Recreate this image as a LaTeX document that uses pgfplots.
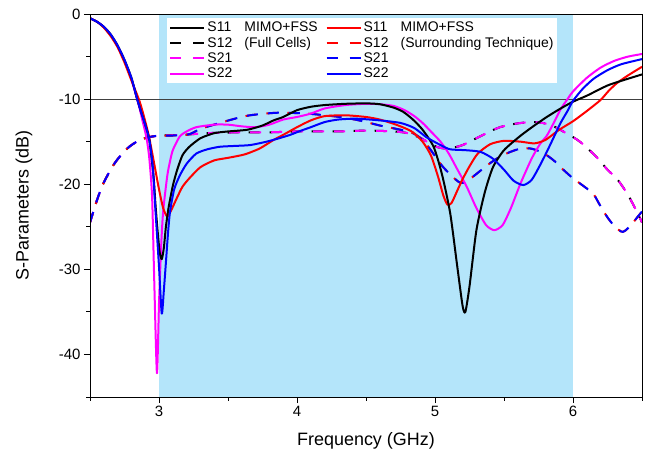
\documentclass[border=0pt]{standalone}
\usepackage{fontspec}
\setmainfont{Liberation Sans}
\usepackage{pgfplots}
\pgfplotsset{compat=1.18}
\definecolor{skyb}{RGB}{180,229,250}
\definecolor{mag}{RGB}{255,0,255}
\definecolor{myred}{RGB}{255,0,0}
\definecolor{myblue}{RGB}{0,0,255}
\begin{document}
\begin{tikzpicture}
\begin{axis}[
 scale only axis, width=552bp, height=383bp,
 xmin=2.5, xmax=6.5, ymin=-45, ymax=0,
 xtick={3,4,5,6}, minor xtick={2.5,3.5,4.5,5.5,6.5},
 ytick={-40,-30,-20,-10,0}, minor ytick={-45,-35,-25,-15,-5},
 tick align=outside, xtick pos=bottom, ytick pos=left,
 major tick length=6bp, minor tick length=3.5bp,
 tick style={black, line width=0.8bp},
 axis line style={line width=0.8bp},
 axis on top,
 /pgf/number format/assume math mode=true,
 tick label style={font=\fontsize{15}{15}\selectfont},
 xlabel={Frequency (GHz)}, ylabel={S-Parameters (dB)},
 xlabel style={font=\fontsize{18}{18}\selectfont, at={(axis description cs:0.5,-0.1149)}, anchor=center},
 ylabel style={font=\fontsize{18}{18}\selectfont, at={(axis description cs:-0.1196,0.5)}, anchor=center},
 legend style={at={(axis cs:3.06,-0.45)}, anchor=north west, draw=none, fill=white,
   font=\fontsize{14}{16}\selectfont, inner sep=2bp,
   /tikz/every even column/.append style={column sep=6bp}},
 legend columns=2, legend cell align=left,
 legend image code/.code={\draw[#1] (0bp,0bp) -- (34bp,0bp);},
 every axis plot/.append style={line width=2bp, line join=round},
]
\fill[skyb] (axis cs:3,-45) rectangle (axis cs:6,0);
\draw[black!75, line width=0.8bp] (axis cs:2.5,-10) -- (axis cs:6.5,-10);

% S12 Full cells (black dashed) = S21 Full cells (magenta dashed)
\addplot[forget plot, black, dash pattern=on 11bp off 10bp, dash phase=1.5bp, smooth, tension=0.5] coordinates {
(2.5,-24.5)(2.55,-21.9)(2.6,-19.8)(2.68,-17.5)(2.77,-15.8)(2.85,-14.9)(2.92,-14.5)(3.0,-14.3)(3.17,-14.2)(3.35,-14.0)(3.6,-13.9)(3.8,-13.9)(4.0,-13.8)(4.3,-13.8)(4.5,-13.7)(4.7,-13.8)(4.8,-14)(4.9,-14.6)(4.96,-15.2)(5.03,-15.7)(5.1,-15.8)(5.2,-15.4)(5.3,-14.6)(5.4,-13.8)(5.47,-13.3)(5.58,-12.9)(5.69,-12.7)(5.78,-12.8)(5.86,-13.2)(5.95,-14)(6.05,-15)(6.17,-16.8)(6.25,-18.3)(6.32,-19.4)(6.4,-21.3)(6.48,-23.8)(6.5,-24.5)};
\addplot[forget plot, mag, dash pattern=on 11bp off 10bp, smooth, tension=0.5] coordinates {
(2.5,-24.5)(2.55,-21.9)(2.6,-19.8)(2.68,-17.5)(2.77,-15.8)(2.85,-14.9)(2.92,-14.5)(3.0,-14.3)(3.17,-14.2)(3.35,-14.0)(3.6,-13.9)(3.8,-13.9)(4.0,-13.8)(4.3,-13.8)(4.5,-13.7)(4.7,-13.8)(4.8,-14)(4.9,-14.6)(4.96,-15.2)(5.03,-15.7)(5.1,-15.8)(5.2,-15.4)(5.3,-14.6)(5.4,-13.8)(5.47,-13.3)(5.58,-12.9)(5.69,-12.7)(5.78,-12.8)(5.86,-13.2)(5.95,-14)(6.05,-15)(6.17,-16.8)(6.25,-18.3)(6.32,-19.4)(6.4,-21.3)(6.48,-23.8)(6.5,-24.5)};
% S12 Surrounding (red dashed) = S21 Surrounding (blue dashed)
\addplot[forget plot, myred, dash pattern=on 11bp off 10bp, dash phase=1.5bp, smooth, tension=0.5] coordinates {
(2.5,-24.5)(2.55,-21.9)(2.6,-19.8)(2.68,-17.5)(2.77,-15.8)(2.85,-14.9)(2.92,-14.5)(3.0,-14.3)(3.2,-14.2)(3.3,-13.5)(3.42,-12.9)(3.55,-12.3)(3.66,-11.9)(3.86,-11.6)(4.07,-11.7)(4.2,-11.9)(4.31,-12.1)(4.45,-12.5)(4.6,-13.1)(4.75,-13.6)(4.84,-14.0)(4.91,-14.8)(4.97,-16)(5.06,-18)(5.18,-19.8)(5.25,-19.4)(5.33,-18.4)(5.41,-17.4)(5.49,-16.6)(5.6,-15.9)(5.69,-15.8)(5.78,-16.3)(5.86,-17.2)(5.93,-18.3)(6.0,-19.3)(6.1,-20.5)(6.15,-21.2)(6.2,-22.6)(6.25,-23.9)(6.3,-24.9)(6.36,-25.6)(6.42,-24.8)(6.46,-24.0)(6.5,-23.2)};
\addplot[forget plot, myblue, dash pattern=on 11bp off 10bp, smooth, tension=0.5] coordinates {
(2.5,-24.5)(2.55,-21.9)(2.6,-19.8)(2.68,-17.5)(2.77,-15.8)(2.85,-14.9)(2.92,-14.5)(3.0,-14.3)(3.2,-14.2)(3.3,-13.5)(3.42,-12.9)(3.55,-12.3)(3.66,-11.9)(3.86,-11.6)(4.07,-11.7)(4.2,-11.9)(4.31,-12.1)(4.45,-12.5)(4.6,-13.1)(4.75,-13.6)(4.84,-14.0)(4.91,-14.8)(4.97,-16)(5.06,-18)(5.18,-19.8)(5.25,-19.4)(5.33,-18.4)(5.41,-17.4)(5.49,-16.6)(5.6,-15.9)(5.69,-15.8)(5.78,-16.3)(5.86,-17.2)(5.93,-18.3)(6.0,-19.3)(6.1,-20.5)(6.15,-21.2)(6.2,-22.6)(6.25,-23.9)(6.3,-24.9)(6.36,-25.6)(6.42,-24.8)(6.46,-24.0)(6.5,-23.2)};

% S22 Full cells (magenta solid)
\addplot[forget plot, mag, smooth, tension=0.4] coordinates {
(2.5,-0.5)(2.55,-0.9)(2.6,-1.5)(2.65,-2.5)(2.7,-3.8)(2.75,-5.5)(2.8,-7.7)(2.85,-10.5)(2.88,-12.5)(2.91,-14.6)(2.93,-17)(2.95,-21.5)(2.965,-31)(2.985,-42.2)(3.0,-34)(3.015,-27.5)(3.03,-23.2)(3.06,-19)(3.08,-17.3)(3.1,-16)(3.15,-14.4)(3.2,-13.8)(3.27,-13.3)(3.4,-13.0)(3.5,-13.0)(3.6,-13.2)(3.7,-13.3)(3.8,-13.0)(3.9,-12.4)(4.0,-12.1)(4.1,-11.7)(4.2,-11.1)(4.35,-10.7)(4.5,-10.55)(4.6,-10.6)(4.7,-10.8)(4.78,-11.3)(4.85,-12)(4.91,-12.8)(4.97,-13.8)(5.04,-15)(5.1,-16.4)(5.16,-18.2)(5.23,-20.3)(5.3,-22.8)(5.37,-24.8)(5.43,-25.4)(5.49,-24.8)(5.55,-22.8)(5.62,-19.9)(5.7,-17)(5.76,-15.3)(5.81,-14.3)(5.86,-12.8)(5.91,-11.2)(5.96,-10)(6.0,-9.1)(6.1,-7.5)(6.2,-6.3)(6.3,-5.5)(6.4,-5.0)(6.5,-4.7)};
% S11 Surrounding (red solid)
\addplot[forget plot, myred, smooth, tension=0.4] coordinates {
(2.5,-0.5)(2.55,-0.9)(2.6,-1.6)(2.65,-2.6)(2.7,-3.9)(2.75,-5.7)(2.8,-7.8)(2.86,-10.3)(2.9,-12.6)(2.93,-14.6)(2.97,-18)(3.0,-20.6)(3.03,-22.8)(3.06,-23.8)(3.09,-23)(3.13,-21.6)(3.17,-20.3)(3.22,-19.3)(3.3,-18)(3.4,-17.2)(3.5,-16.9)(3.62,-16.5)(3.73,-15.8)(3.83,-14.8)(3.9,-14.2)(4.0,-13.3)(4.1,-12.5)(4.2,-12.0)(4.35,-11.9)(4.5,-12.1)(4.6,-12.4)(4.7,-12.9)(4.78,-13.4)(4.84,-13.9)(4.91,-15)(4.97,-16.6)(5.02,-19)(5.06,-21.3)(5.09,-22.4)(5.12,-22.2)(5.16,-20.8)(5.2,-19.4)(5.25,-17.9)(5.31,-16.4)(5.4,-15.3)(5.5,-14.9)(5.62,-15)(5.72,-15.2)(5.8,-14.8)(5.9,-13.6)(6.0,-12.6)(6.1,-11.4)(6.2,-10.1)(6.26,-9.0)(6.32,-8.1)(6.4,-7.2)(6.5,-6.2)};
% S11 Full cells (black solid)
\addplot[forget plot, black, smooth, tension=0.4] coordinates {
(2.5,-0.5)(2.55,-0.9)(2.6,-1.5)(2.65,-2.4)(2.7,-3.7)(2.75,-5.4)(2.8,-7.5)(2.84,-9.9)(2.87,-11.5)(2.9,-13)(2.93,-14.8)(2.96,-19)(2.975,-22.5)(2.99,-25.5)(3.005,-28)(3.02,-28.8)(3.035,-27.5)(3.05,-25)(3.07,-22.7)(3.1,-20.2)(3.13,-18.4)(3.17,-16.6)(3.22,-15.6)(3.3,-14.6)(3.4,-14.0)(3.5,-13.8)(3.64,-13.6)(3.75,-13.1)(3.83,-12.5)(3.9,-12.1)(4.0,-11.3)(4.1,-10.9)(4.2,-10.7)(4.35,-10.55)(4.5,-10.5)(4.6,-10.6)(4.7,-11.0)(4.77,-11.5)(4.84,-12.4)(4.91,-13.6)(4.99,-15.6)(5.05,-18.8)(5.11,-23.4)(5.16,-29.5)(5.2,-34.3)(5.22,-35)(5.25,-32)(5.3,-25.4)(5.36,-21)(5.42,-18)(5.5,-16)(5.62,-14.3)(5.72,-13.1)(5.81,-12.1)(5.9,-11.2)(6.0,-10.3)(6.1,-9.6)(6.25,-8.4)(6.38,-7.7)(6.5,-7.1)};
% S22 Surrounding (blue solid)
\addplot[forget plot, myblue, smooth, tension=0.4] coordinates {
(2.5,-0.5)(2.55,-0.9)(2.6,-1.5)(2.65,-2.4)(2.7,-3.7)(2.75,-5.4)(2.8,-7.5)(2.84,-9.9)(2.87,-11.5)(2.9,-13)(2.93,-14.8)(2.955,-18)(2.97,-22)(2.985,-25.8)(3.0,-29.7)(3.02,-35.2)(3.035,-32.5)(3.05,-29.2)(3.065,-25.8)(3.08,-23.2)(3.11,-20.6)(3.15,-19)(3.2,-17.6)(3.27,-16.4)(3.35,-15.9)(3.44,-15.6)(3.55,-15.5)(3.66,-15.4)(3.78,-15.0)(3.87,-14.6)(3.95,-14.2)(4.03,-13.7)(4.1,-13.3)(4.2,-12.7)(4.3,-12.4)(4.43,-12.3)(4.6,-12.5)(4.75,-12.8)(4.85,-13.4)(4.94,-14.5)(5.04,-15.4)(5.11,-15.9)(5.22,-16)(5.33,-16.2)(5.42,-17)(5.5,-18.3)(5.57,-19.6)(5.64,-20.1)(5.7,-19.5)(5.76,-17.8)(5.81,-16.2)(5.86,-14.5)(5.91,-12.8)(5.96,-11.4)(6.0,-10.2)(6.07,-8.8)(6.15,-7.6)(6.25,-6.6)(6.35,-5.9)(6.5,-5.3)};

\addlegendimage{black, line width=2bp}
\addlegendentry{\makebox[37bp][l]{S11}MIMO+FSS}
\addlegendimage{myred, line width=2bp}
\addlegendentry{\makebox[37bp][l]{S11}MIMO+FSS}
\addlegendimage{black, line width=2bp, dash pattern=on 11bp off 12bp}
\addlegendentry{\makebox[37bp][l]{S12}(Full Cells)}
\addlegendimage{myred, line width=2bp, dash pattern=on 11bp off 12bp}
\addlegendentry{\makebox[37bp][l]{S12}(Surrounding Technique)}
\addlegendimage{mag, line width=2bp, dash pattern=on 11bp off 12bp}
\addlegendentry{S21}
\addlegendimage{myblue, line width=2bp, dash pattern=on 11bp off 12bp}
\addlegendentry{S21}
\addlegendimage{mag, line width=2bp}
\addlegendentry{S22}
\addlegendimage{myblue, line width=2bp}
\addlegendentry{S22}
\end{axis}
\pgfresetboundingbox
\path[use as bounding box] ([shift={(-90bp,-63bp)}]current axis.south west) rectangle ([shift={(6bp,14bp)}]current axis.north east);
\end{tikzpicture}
\end{document}
